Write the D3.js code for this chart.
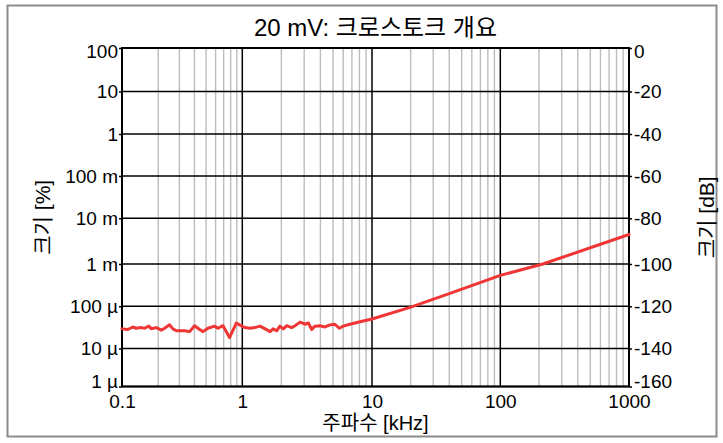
<!DOCTYPE html>
<html>
<head>
<meta charset="utf-8">
<script src="https://cdn.jsdelivr.net/npm/d3@7/dist/d3.min.js"></script>
<style>
  html, body { margin: 0; padding: 0; background: #fff; }
  svg text { font-family: "Liberation Sans", Arial, "Noto Sans CJK KR", sans-serif; fill: #000; }
</style>
</head>
<body>
<svg id="chart" width="723" height="443"></svg>
<script>
// ---- data ----
const titleText = "20 mV: 크로스토크 개요";
const xLabelText = "주파수 [kHz]";
const yLeftLabelText = "크기 [%]";
const yRightLabelText = "크기 [dB]";

const xTickValues = [0.1, 1, 10, 100, 1000];
const xTickLabels = ["0.1", "1", "10", "100", "1000"];
const leftTickValues = [100, 10, 1, 0.1, 0.01, 0.001, 1e-4, 1e-5, 1e-6];
const leftTickLabels = ["100", "10", "1", "100 m", "10 m", "1 m", "100 µ", "10 µ", "1 µ"];
const rightTickValues = [0, -20, -40, -60, -80, -100, -120, -140, -160];

const freqKHz = [0.100, 0.112, 0.123, 0.131, 0.145, 0.154, 0.167, 0.175, 0.193, 0.212,
  0.226, 0.249, 0.265, 0.283, 0.332, 0.365, 0.401, 0.442, 0.471, 0.518,
  0.589, 0.627, 0.691, 0.783, 0.892, 1.01, 1.05, 1.15, 1.25, 1.37,
  1.50, 1.64, 1.73, 1.84, 1.95, 2.07, 2.20, 2.40, 2.55, 2.79,
  3.04, 3.23, 3.43, 3.63, 3.97, 4.34, 4.74, 5.18, 5.59, 6.01,
  6.76, 8.09, 10, 19.8, 40.5, 100, 214, 1000];
const crosstalkDb = [-130.7, -131.0, -129.8, -130.4, -130.1, -130.4, -129.4, -130.6, -130.1, -131.3,
  -130.4, -128.8, -130.7, -131.6, -131.6, -132.0, -129.2, -131.0, -132.0, -130.4,
  -129.4, -130.4, -129.2, -134.8, -128.0, -129.6, -130.1, -130.4, -130.1, -129.4,
  -130.7, -132.0, -130.7, -131.6, -129.4, -130.7, -129.2, -130.1, -129.2, -127.5,
  -128.5, -127.9, -131.0, -129.4, -129.2, -129.8, -128.8, -128.5, -130.4, -129.4,
  -128.5, -127.3, -126.0, -120.5, -113.9, -105.4, -100.0, -87.1];

// ---- layout ----
const plot = { left: 122, right: 629, top: 48, bottom: 386.5 };
const FONT = '"Liberation Sans", Arial, "Noto Sans CJK KR", sans-serif';
const svg = d3.select("#chart");

// outer frame
svg.append("rect").attr("x", 7.5).attr("y", 5.5).attr("width", 709).attr("height", 431)
  .attr("fill", "#fff").attr("stroke", "#8c8c8c").attr("stroke-width", 2);

// scales (piecewise to follow the reference's decade spacing)
const x = d3.scaleLog().domain(xTickValues)
  .range([plot.left, 242.3, 372, 500.3, plot.right]);
const yRange = [plot.top, 91.5, 134, 176, 218.3, 264, 306.3, 348.5, plot.bottom];
const yDb = d3.scaleLinear().domain(rightTickValues).range(yRange);
const yPct = d3.scaleLog().domain(leftTickValues).range(yRange);

// grid
const g = svg.append("g");
const minor = x.ticks().filter(v => !xTickValues.some(t => Math.abs(t - v) / t < 1e-6));
g.selectAll("line.minor").data(minor).join("line")
  .attr("x1", d => x(d)).attr("x2", d => x(d))
  .attr("y1", plot.top).attr("y2", plot.bottom)
  .attr("stroke", "#bdbdbd").attr("stroke-width", 1.4);
g.selectAll("line.major").data(xTickValues).join("line")
  .attr("x1", d => x(d)).attr("x2", d => x(d))
  .attr("y1", plot.top).attr("y2", plot.bottom)
  .attr("stroke", "#000").attr("stroke-width", 1.5);
g.selectAll("line.h").data(rightTickValues).join("line")
  .attr("x1", plot.left).attr("x2", plot.right)
  .attr("y1", d => yDb(d)).attr("y2", d => yDb(d))
  .attr("stroke", "#000").attr("stroke-width", 1.5);

// axes
const fontSize = "19px";
const leftAxis = svg.append("g").attr("transform", `translate(${plot.left},0)`)
  .call(d3.axisLeft(yPct).tickValues(leftTickValues).tickFormat((d, i) => leftTickLabels[i]).tickSize(3).tickPadding(1));
const rightAxis = svg.append("g").attr("transform", `translate(${plot.right},0)`)
  .call(d3.axisRight(yDb).tickValues(rightTickValues).tickFormat(d => String(d)).tickSize(3).tickPadding(2));
const bottomAxis = svg.append("g").attr("transform", `translate(0,${plot.bottom})`)
  .call(d3.axisBottom(x).tickValues(xTickValues).tickFormat((d, i) => xTickLabels[i]).tickSize(0).tickPadding(8));
[leftAxis, rightAxis, bottomAxis].forEach(a => {
  a.select(".domain").remove();
  a.selectAll("line").attr("stroke", "#000").attr("stroke-width", 1.5);
  a.selectAll("text").style("font-size", fontSize).style("font-family", FONT).attr("fill", "#000");
});
// first/last vertical labels nudged inside like the reference
[leftAxis, rightAxis].forEach(a => {
  const texts = a.selectAll(".tick text");
  const n = texts.size();
  texts.attr("dy", (d, i) => i === 0 ? "0.5em" : (i === n - 1 ? "0.05em" : "0.32em"));
});

// plot frame
svg.append("rect").attr("x", plot.left).attr("y", plot.top)
  .attr("width", plot.right - plot.left).attr("height", plot.bottom - plot.top)
  .attr("fill", "none").attr("stroke", "#000").attr("stroke-width", 2);

// curve
const pts = freqKHz.map((f, i) => [f, crosstalkDb[i]]);
svg.append("path").datum(pts)
  .attr("d", d3.line().x(d => x(d[0])).y(d => yDb(d[1])))
  .attr("fill", "none").attr("stroke", "#f03535").attr("stroke-width", 3)
  .attr("stroke-linejoin", "round").attr("stroke-linecap", "round");

// titles
svg.append("text").attr("x", (plot.left + plot.right) / 2).attr("y", 36)
  .attr("text-anchor", "middle").style("font-size", "24px").text(titleText);
svg.append("text").attr("x", (plot.left + plot.right) / 2).attr("y", 430)
  .attr("text-anchor", "middle").style("font-size", "20px").text(xLabelText);
svg.append("text").attr("transform", `translate(50,${(plot.top + plot.bottom) / 2}) rotate(-90)`)
  .attr("text-anchor", "middle").style("font-size", "21px").text(yLeftLabelText);
svg.append("text").attr("transform", `translate(714,${(plot.top + plot.bottom) / 2}) rotate(-90)`)
  .attr("text-anchor", "middle").style("font-size", "21px").text(yRightLabelText);
</script>
</body>
</html>
